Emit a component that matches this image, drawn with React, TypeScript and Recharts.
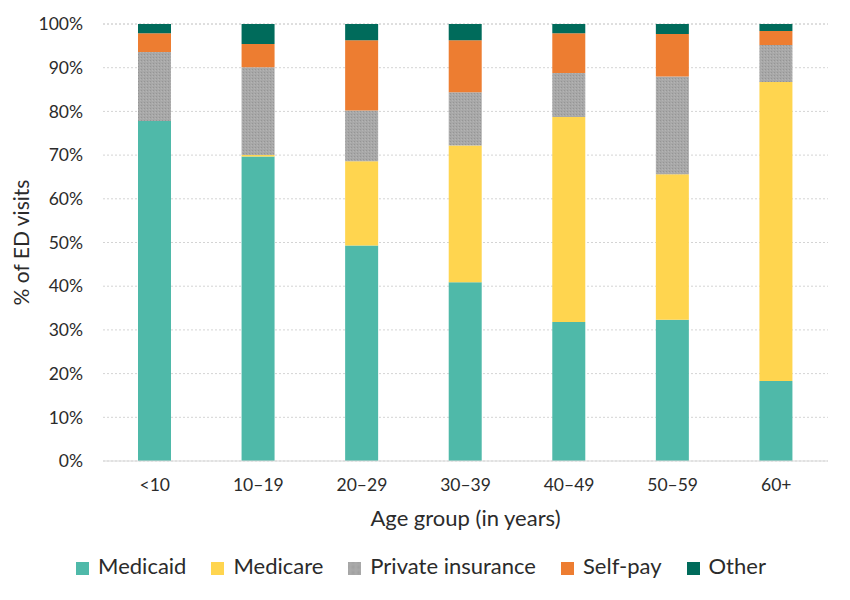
import { BarChart, Bar, XAxis, YAxis, CartesianGrid, Legend } from 'recharts';

const categories = ['<10', '10–19', '20–29', '30–39', '40–49', '50–59', '60+'];
const medicaid = [77.8, 69.7, 49.3, 40.9, 31.8, 32.3, 18.3];
const medicare = [0, 0.3, 19.3, 31.3, 46.9, 33.3, 68.4];
const privateInsurance = [15.8, 20.1, 11.6, 12.2, 10.1, 22.4, 8.5];
const selfPay = [4.3, 5.3, 16.1, 11.9, 9.1, 9.7, 3.2];
const other = [2.1, 4.6, 3.7, 3.7, 2.1, 2.3, 1.6];
const yTicks = [0, 10, 20, 30, 40, 50, 60, 70, 80, 90, 100];

const data = categories.map((age, i) => ({
  age,
  medicaid: medicaid[i],
  medicare: medicare[i],
  privateInsurance: privateInsurance[i],
  selfPay: selfPay[i],
  other: other[i],
}));

const FONT = 'Lato, "Liberation Sans", sans-serif';
const TEXT = '#2b2b2b';

export default function App() {
  return (
    <div style={{ position: 'absolute', left: 0, top: 0, width: 850, height: 600, background: '#fff', fontFamily: FONT }}>
      <BarChart
        width={850}
        height={600}
        data={data}
        margin={{ top: 24, right: 22, left: 0, bottom: 21 }}
        barSize={33}
      >
        <defs>
          <pattern id="grayDots" width="3" height="3" patternUnits="userSpaceOnUse">
            <rect width="3" height="3" fill="#a8a8a8" />
            <rect x="0" y="0" width="1" height="1" fill="#959595" />
            <rect x="2" y="1" width="1" height="1" fill="#b4b4b4" />
          </pattern>
        </defs>
        <CartesianGrid vertical={false} stroke="#d4d4d4" strokeDasharray="2 2" />
        <XAxis
          dataKey="age"
          height={91}
          tickSize={0}
          tickMargin={18}
          axisLine={{ stroke: '#d9d9d9' }}
          tick={{ fill: TEXT, fontSize: 17.5, fontFamily: FONT }}
          label={{ value: 'Age group (in years)', position: 'insideBottom', offset: 26, fill: TEXT, fontSize: 22, fontFamily: FONT }}
        />
        <YAxis
          width={103}
          domain={[0, 100]}
          ticks={yTicks}
          tickFormatter={(v: number) => `${v}%`}
          tickSize={0}
          tickMargin={20}
          axisLine={false}
          tick={{ fill: TEXT, fontSize: 17.5, fontFamily: FONT }}
          label={{ value: '% of ED visits', angle: -90, position: 'insideLeft', offset: 22, fill: TEXT, fontSize: 21, fontFamily: FONT, style: { textAnchor: 'middle' } }}
        />
        <Legend
          verticalAlign="bottom"
          iconType="square"
          iconSize={13}
          itemSorter={null}
          wrapperStyle={{ fontSize: 22, fontFamily: FONT, left: 12 }}
          formatter={(value: string, _entry: unknown, index: number) => (
            <span style={{ color: TEXT, marginLeft: 5, marginRight: index === 4 ? 0 : 15 }}>{value}</span>
          )}
        />
        <Bar dataKey="medicaid" name="Medicaid" stackId="a" fill="#4fb9a9" isAnimationActive={false} />
        <Bar dataKey="medicare" name="Medicare" stackId="a" fill="#ffd54f" isAnimationActive={false} />
        <Bar dataKey="privateInsurance" name="Private insurance" stackId="a" fill="url(#grayDots)" isAnimationActive={false} />
        <Bar dataKey="selfPay" name="Self-pay" stackId="a" fill="#ed7d31" isAnimationActive={false} />
        <Bar dataKey="other" name="Other" stackId="a" fill="#006b5b" isAnimationActive={false} />
      </BarChart>
    </div>
  );
}
